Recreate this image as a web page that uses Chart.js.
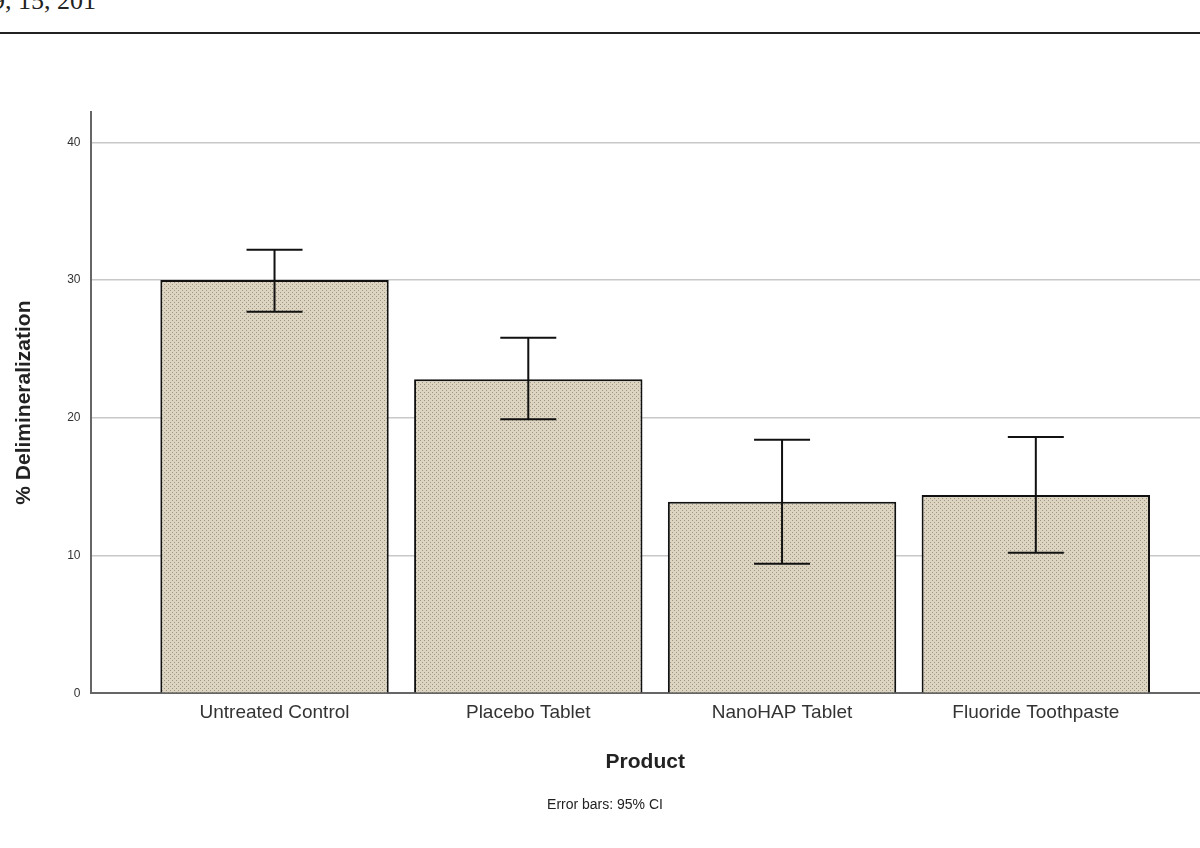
<!DOCTYPE html>
<html>
<head>
<meta charset="utf-8">
<script src="https://cdn.jsdelivr.net/npm/chart.js@4.4.0/dist/chart.umd.min.js"></script>
<style>
  html, body { margin: 0; padding: 0; background: #fff; }
  #wrap { position: relative; width: 1200px; height: 848px; overflow: hidden; }
  #hdr { position: absolute; left: -8px; top: -14px; font: 26px "Liberation Serif", serif; color: #222; }
  #rule { position: absolute; left: 0; top: 32px; width: 1200px; height: 2px; background: #222; }
  #chartBox { position: absolute; left: 0; top: 60px; width: 1200px; height: 788px; }
</style>
</head>
<body>
<div id="wrap">
  <div id="hdr">9, 15, 201</div>
  <div id="rule"></div>
  <div id="chartBox"><canvas id="c"></canvas></div>
</div>
<script>
// Demineralization by product, mean with 95% CI
const products = ["Untreated Control", "Placebo Tablet", "NanoHAP Tablet", "Fluoride Toothpaste"];
const means = [30.0, 22.8, 13.9, 14.4];
const ciLow = [27.7, 19.9, 9.4, 10.2];
const ciHigh = [32.2, 25.8, 18.4, 18.6];
const yTicks = [0, 10, 20, 30, 40];

function makePattern() {
  const p = document.createElement("canvas");
  p.width = 4; p.height = 4;
  const g = p.getContext("2d");
  g.fillStyle = "#ddd5c2";
  g.fillRect(0, 0, 4, 4);
  g.fillStyle = "#9c9582";
  g.fillRect(0, 0, 1, 1);
  g.fillRect(2, 2, 1, 1);
  return g.createPattern(p, "repeat");
}

// error bars drawn through the scales
const errorBars = {
  id: "errorBars",
  afterDatasetsDraw(chart) {
    const { ctx, scales: { x, y } } = chart;
    ctx.save();
    ctx.strokeStyle = "#111";
    ctx.lineWidth = 2;
    products.forEach((_, i) => {
      const px = x.getPixelForValue(i);
      const top = y.getPixelForValue(ciHigh[i]);
      const bot = y.getPixelForValue(ciLow[i]);
      ctx.beginPath();
      ctx.moveTo(px, top); ctx.lineTo(px, bot);
      ctx.moveTo(px - 28, top); ctx.lineTo(px + 28, top);
      ctx.moveTo(px - 28, bot); ctx.lineTo(px + 28, bot);
      ctx.stroke();
    });
    ctx.restore();
  }
};

new Chart(document.getElementById("c"), {
  type: "bar",
  data: {
    datasets: [{
      data: means.map((v, i) => ({ x: i, y: v })),
      backgroundColor: makePattern(),
      borderColor: "#111",
      borderWidth: 2,
      barPercentage: 0.9,
      categoryPercentage: 1.0,
    }],
  },
  options: {
    responsive: true,
    maintainAspectRatio: false,
    animation: false,
    layout: { padding: { left: 8, right: -2, top: 52, bottom: 34 } },
    plugins: {
      legend: { display: false },
      tooltip: { enabled: false },
      title: {
        display: true, position: "bottom", text: "Error bars: 95% CI",
        color: "#222", font: { family: "Liberation Sans", size: 14, weight: "normal" }, padding: { top: 18 },
      },
    },
    scales: {
      x: {
        type: "linear", min: -0.725, max: 3.647, offset: false,
        afterBuildTicks(s) { s.ticks = products.map((_, i) => ({ value: i })); },
        ticks: { callback: (v) => products[v], color: "#333", font: { family: "Liberation Sans", size: 19 }, padding: 8 },
        grid: { display: false, drawTicks: false },
        border: { color: "#666", width: 2 },
        title: { display: true, text: "Product", color: "#222", font: { family: "Liberation Sans", size: 21, weight: "bold" }, padding: { top: 18 } },
      },
      y: {
        min: 0, max: 42.2,
        afterBuildTicks(s) { s.ticks = yTicks.map((v) => ({ value: v })); },
        ticks: { color: "#333", font: { family: "Liberation Sans", size: 12 }, padding: 10 },
        grid: { color: "#c8c8c8", lineWidth: 1.5, drawTicks: false },
        border: { color: "#666", width: 2 },
        title: { display: true, text: "% Delimineralization", color: "#222", font: { family: "Liberation Sans", size: 21, weight: "bold" }, padding: { bottom: 20 } },
      },
    },
  },
  plugins: [errorBars],
});
</script>
</body>
</html>
